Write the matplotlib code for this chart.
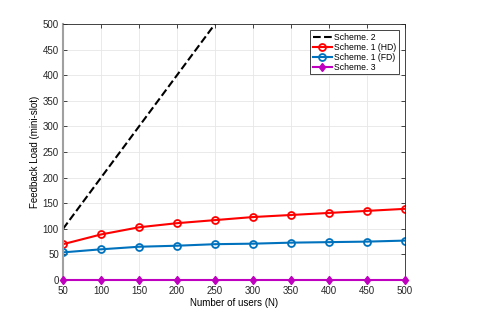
import matplotlib
import matplotlib.pyplot as plt
import numpy as np

matplotlib.use("Agg")

users = [50, 100, 150, 200, 250, 300, 350, 400, 450, 500]
scheme2 = [100, 200, 300, 400, 500, 600, 700, 800, 900, 1000]
scheme1_hd = [70, 89, 103, 111, 117, 123, 127, 131, 135, 139]
scheme1_fd = [54, 60, 65, 67, 70, 71, 73, 74, 75, 77]
scheme3 = [0, 0, 0, 0, 0, 0, 0, 0, 0, 0]

plt.rcParams["font.family"] = ["Liberation Sans", "DejaVu Sans"]
plt.rcParams["font.size"] = 7

fig = plt.figure(figsize=(4.85, 3.15), dpi=100)
ax = fig.add_axes([0.13, 0.111, 0.705, 0.813])

ax.plot(users, scheme2, "k--", linewidth=1.5, label="Scheme. 2")
ax.plot(users, scheme1_hd, "-o", color="#ff0000", linewidth=1.5,
        markersize=5, markerfacecolor="none", markeredgewidth=1.3,
        label="Scheme. 1 (HD)")
ax.plot(users, scheme1_fd, "-o", color="#0072bd", linewidth=1.5,
        markersize=5, markerfacecolor="none", markeredgewidth=1.3,
        label="Scheme. 1 (FD)")
ax.plot(users, scheme3, "-d", color="#bf00bf", linewidth=1.5,
        markersize=4.5, label="Scheme. 3", clip_on=False, zorder=5)

ax.set_xlim(50, 500)
ax.set_ylim(0, 500)
ax.set_xticks(np.arange(50, 501, 50))
ax.set_yticks(np.arange(0, 501, 50))
ax.set_xlabel("Number of users (N)", labelpad=1)
ax.set_ylabel("Feedback Load (mini-slot)", labelpad=2)

ax.grid(True, color="#e6e6e6", linewidth=0.6)
ax.set_axisbelow(True)
for side in ["top", "right", "bottom"]:
    ax.spines[side].set_color("#262626")
    ax.spines[side].set_linewidth(0.6)
ax.spines["left"].set_color("#a0a0a0")
ax.spines["left"].set_linewidth(1.5)
ax.tick_params(direction="in", length=3, width=0.6, colors="#262626",
               top=True, right=True, labelsize=7)
ax.tick_params(axis="x", pad=4.5)
ax.tick_params(axis="y", pad=3)

leg = ax.legend(loc="upper right", fancybox=False, framealpha=1,
                edgecolor="#262626", fontsize=6.2, handlelength=2.3,
                borderpad=0.3, labelspacing=0.12, handletextpad=0.2,
                borderaxespad=0.7)
leg.get_frame().set_linewidth(0.6)

fig.savefig("out.png", dpi=100)
plt.close(fig)
